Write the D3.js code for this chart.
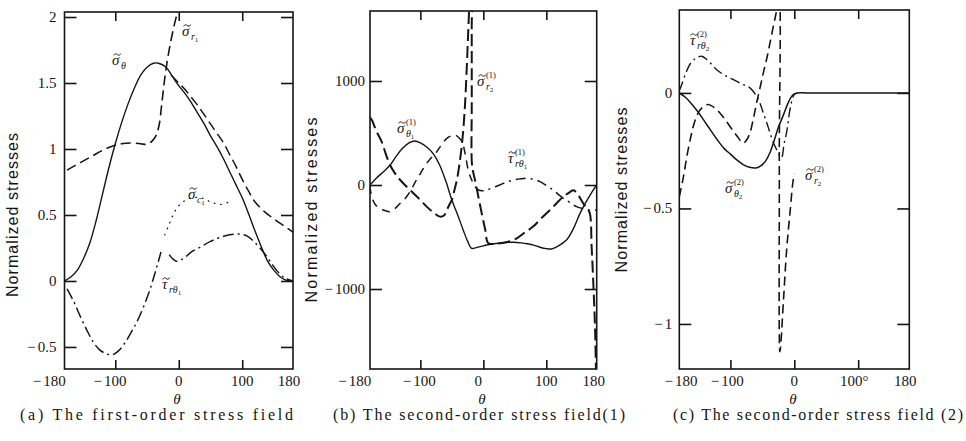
<!DOCTYPE html>
<html><head><meta charset="utf-8">
<script src="https://cdn.jsdelivr.net/npm/d3@7"></script>
<style>body{margin:0;background:#fff}svg{display:block}</style>
</head><body>
<svg id="c" width="966" height="441"></svg>
<script>
// ---------------- data ----------------
const thetaDomain = [-180, 180];
const thetaTickMarks = [-100, 0, 100];
const thetaTicks = [-180, -100, 0, 100, 180];
const xTickLabelsA = ["−180", "−100", "0", "100", "180"];
const xTickLabelsB = ["−180", "−100", "0", "100", "180"];
const xTickLabelsC = ["−180", "−100", "0", "100°", "180"];

const yTicksA = [-0.5, 0, 0.5, 1, 1.5, 2];
const yTickLabelsA = ["−0.5", "0", "0.5", "1", "1.5", "2"];
const yTicksB = [-1000, 0, 1000];
const yTickLabelsB = ["−1000", "0", "1000"];
const yTicksC = [-1, -0.5, 0];
const yTickLabelsC = ["−1", "−0.5", "0"];

const yDomainA = [-0.667, 2.038];
const yDomainB = [-1769, 1673];
const yDomainC = [-1.195, 0.359];

// (a) first-order field
const aSigTheta = [[-180,0],[-170,0.03],[-160,0.08],[-150,0.17],[-140,0.29],[-130,0.46],[-120,0.66],[-110,0.86],[-100,1.04],[-90,1.2],[-80,1.34],[-70,1.46],[-60,1.56],[-50,1.62],[-40,1.65],[-32,1.65],[-20,1.62],[-10,1.55],[0,1.48],[10,1.42],[20,1.35],[30,1.27],[40,1.19],[50,1.1],[60,1.02],[70,0.93],[80,0.83],[90,0.73],[100,0.63],[110,0.51],[120,0.38],[130,0.26],[140,0.15],[150,0.08],[160,0.03],[170,0.005],[180,0]];
const aSigRLeft = [[-176,0.84],[-165,0.87],[-150,0.91],[-135,0.95],[-120,0.99],[-105,1.02],[-90,1.04],[-75,1.045],[-60,1.04],[-50,1.035],[-42,1.06],[-36,1.1],[-31,1.18],[-27,1.33],[-23,1.5],[-19,1.64],[-14,1.78],[-8,1.92],[-2,2.04],[2,2.12]];
const aSigRRight = [[-12,1.56],[0,1.5],[10,1.45],[20,1.39],[30,1.33],[40,1.26],[50,1.19],[60,1.12],[70,1.05],[80,0.96],[90,0.87],[100,0.77],[110,0.68],[120,0.6],[135,0.525],[150,0.47],[165,0.42],[180,0.37]];
const aSigC = [[-22,0.35],[-15,0.43],[-8,0.51],[0,0.57],[10,0.61],[20,0.63],[35,0.63],[50,0.6],[65,0.58],[80,0.6]];
const aTauLeft = [[-176,-0.06],[-165,-0.16],[-155,-0.27],[-145,-0.37],[-135,-0.46],[-125,-0.52],[-115,-0.55],[-105,-0.56],[-95,-0.53],[-85,-0.47],[-75,-0.39],[-65,-0.3],[-55,-0.19],[-45,-0.06],[-38,0.05],[-32,0.15],[-28,0.22]];
const aTauRight = [[-15,0.2],[-10,0.17],[-4,0.15],[2,0.155],[10,0.18],[20,0.22],[35,0.26],[50,0.3],[65,0.33],[80,0.35],[95,0.355],[108,0.34],[118,0.3],[128,0.25],[138,0.19],[148,0.12],[158,0.06],[168,0.02],[180,0]];

// (b) second-order field (1)
const bSigTheta = [[-180,0],[-170,65],[-160,120],[-148,192],[-138,280],[-128,355],[-118,405],[-108.5,423],[-100,405],[-90,365],[-80,304],[-70,200],[-60,45],[-50,-144],[-40,-300],[-32,-433],[-25,-540],[-18.5,-609],[-10,-600],[0,-585],[5,-577],[20,-562],[35,-553],[48,-550],[60,-556],[70,-565],[80,-578],[90,-598],[100,-612],[108,-615],[118,-590],[132,-529],[143,-420],[153,-280],[162,-175],[170,-92],[180,0]];
const bSigR = [[-180,650],[-177,625],[-170,520],[-161.5,417],[-155,300],[-148,190],[-140,110],[-132,48],[-122,-15],[-111,-80],[-100,-145],[-90,-208],[-80,-260],[-69,-304],[-62,-290],[-58,-240],[-54,-190],[-50,-144],[-46,-50],[-42,48],[-38,200],[-34.4,368],[-31.5,560],[-29,785],[-26.5,1105],[-24.5,1400],[-22.5,1700],[-21,1900],[-19,1900],[-18.5,1500],[-18.4,800],[-18.2,208],[-16,120],[-13.3,48],[-8,-110],[-2.6,-272],[3,-430],[8,-560],[20,-565],[32,-555],[45,-535],[53,-513],[65,-460],[79,-400],[92,-320],[106,-240],[117,-170],[127,-112],[137,-70],[143,-50],[150,-90],[158,-170],[165,-230],[169,-270],[172,-600],[175,-1000],[177.5,-1400],[179,-1850]];
const bTauLeft = [[-180,-10],[-177,-120],[-170,-200],[-159,-240],[-148,-256],[-140,-225],[-132,-176],[-124,-130],[-116,-60],[-108,30],[-100,110],[-90,208],[-80,280],[-74,320],[-66,390],[-58,449],[-50,475],[-45,481],[-40,462],[-34,417],[-29,304],[-24,144],[-18.5,48],[-13,-16]];
const bTauRight = [[-13,-16],[-8,-48],[0,-55],[5,-48],[15,-25],[26,0],[38,30],[48,48],[60,60],[69,64],[80,55],[90,32],[100,-5],[111,-48],[120,-95],[127,-128],[138,-170],[148,-208],[160,-230],[170,-240],[180,-240]];

// (c) second-order field (2)
const cSigTheta = [[-180,0],[-170,-0.02],[-160,-0.05],[-150,-0.085],[-140,-0.125],[-130,-0.165],[-120,-0.205],[-110,-0.24],[-100,-0.265],[-90,-0.29],[-80,-0.31],[-70,-0.322],[-60,-0.325],[-52,-0.315],[-45,-0.295],[-38,-0.258],[-32,-0.21],[-25,-0.15],[-17,-0.095],[-10,-0.045],[-5,-0.018],[0,-0.004],[5,0],[20,0],[100,0],[180,0]];
const cSigR = [[-180,-0.45],[-174,-0.37],[-168.5,-0.28],[-162,-0.19],[-155.5,-0.12],[-149,-0.08],[-142,-0.058],[-135,-0.05],[-128,-0.058],[-121.5,-0.072],[-111,-0.105],[-100.7,-0.145],[-90,-0.185],[-80,-0.217],[-75,-0.205],[-69.4,-0.173],[-64,-0.11],[-59,-0.043],[-53,0.03],[-48.5,0.087],[-43,0.15],[-38,0.217],[-32,0.3],[-27.6,0.36],[-25.5,0.45],[-24.5,0.45],[-23.5,-0.3],[-22.6,-1.12],[-21.5,-1.1],[-17,-0.9],[-12,-0.68],[-6.8,-0.52],[-1.6,-0.375],[0.5,-0.35]];
const cTau = [[-180,0.01],[-177,0.03],[-170,0.085],[-162,0.13],[-153,0.152],[-145,0.159],[-137,0.145],[-129,0.123],[-121.5,0.1],[-111,0.08],[-100.7,0.065],[-90,0.05],[-80,0.036],[-69.4,0.022],[-59,-0.014],[-53,-0.05],[-48.5,-0.087],[-43,-0.13],[-38,-0.173],[-32,-0.22],[-27.6,-0.246],[-23,-0.27],[-19.8,-0.28],[-16,-0.22],[-12,-0.17],[-6.8,-0.072],[-3,-0.025],[0,-0.007],[5,0]];

const yTitle = "Normalized stresses";
const axisTitle = "θ";
const captions = ["(a)  The first-order stress field", "(b) The second-order stress field(1)", "(c) The second-order stress field (2)"];

// ---------------- drawing ----------------
const svg = d3.select("#c");
const SERIF = "'Liberation Serif','DejaVu Serif','Times New Roman',serif";
const SANS = "'Liberation Sans','DejaVu Sans',Arial,sans-serif";
const INK = "#151515";
const defs = svg.append("defs");

function seriesLabel(g, x, y, main, sup, sub, subsub) {
  const t = g.append("text").attr("x", x).attr("y", y)
    .attr("font-family", SERIF).attr("font-style", "italic").attr("font-size", 15).attr("fill", INK)
    .text(main);
  const w = t.node().getComputedTextLength();
  // tilde accent drawn as a small wave path above the symbol
  const cx = x + w / 2 + 1.5, cy = y - 10.5;
  g.append("path")
    .attr("d", `M${cx - 3.5},${cy + 0.9} C${cx - 2.3},${cy - 1.4} ${cx - 1},${cy - 0.8} ${cx},${cy} S${cx + 2.3},${cy + 1.4} ${cx + 3.5},${cy - 0.9}`)
    .attr("fill", "none").attr("stroke", INK).attr("stroke-width", 1);
  if (sup) g.append("text").attr("x", x + w + 1.5).attr("y", y - 8)
    .attr("font-family", SERIF).attr("font-size", 8.5).attr("fill", INK).text(sup);
  if (sub) {
    const s = g.append("text").attr("x", x + w + 1.5).attr("y", y + 3.5)
      .attr("font-family", SERIF).attr("font-style", "italic").attr("font-size", 10).attr("fill", INK).text(sub);
    if (subsub) s.append("tspan").attr("dy", 2).attr("font-size", 7).attr("font-style", "normal").text(subsub);
  }
}

function drawPanel(cfg) {
  const g = svg.append("g");
  const x = d3.scaleLinear().domain(thetaDomain).range([cfg.x0, cfg.x1]);
  const y = d3.scaleLinear().domain(cfg.yDomain).range([cfg.y1, cfg.y0]);
  const id = "clip" + cfg.key;
  defs.append("clipPath").attr("id", id).append("rect")
    .attr("x", cfg.x0).attr("y", cfg.y0).attr("width", cfg.x1 - cfg.x0).attr("height", cfg.y1 - cfg.y0);
  const line = d3.line().x(d => x(d[0])).y(d => y(d[1])).curve(d3.curveCatmullRom.alpha(0.5));
  const plot = g.append("g").attr("clip-path", `url(#${id})`);
  cfg.series.forEach(s => {
    plot.append("path").attr("d", line(s.data)).attr("fill", "none")
      .attr("stroke", INK).attr("stroke-width", s.w)
      .attr("stroke-dasharray", s.dash || null)
      .attr("stroke-linecap", s.cap || "butt").attr("stroke-linejoin", "round");
  });
  // frame
  g.append("rect").attr("x", cfg.x0).attr("y", cfg.y0).attr("width", cfg.x1 - cfg.x0).attr("height", cfg.y1 - cfg.y0)
    .attr("fill", "none").attr("stroke", INK).attr("stroke-width", 1.6);
  // ticks through d3 axes (inward)
  const mk = (axis, tr) => {
    const a = g.append("g").attr("transform", tr).call(axis);
    a.selectAll("text").remove();
    a.select(".domain").remove();
    a.selectAll(".tick line").attr("stroke", INK).attr("stroke-width", 1.6);
  };
  mk(d3.axisBottom(x).tickValues(thetaTickMarks).tickSizeInner(-9).tickSizeOuter(0), `translate(0,${cfg.y1})`);
  mk(d3.axisTop(x).tickValues(thetaTickMarks).tickSizeInner(-9).tickSizeOuter(0), `translate(0,${cfg.y0})`);
  mk(d3.axisLeft(y).tickValues(cfg.yTicks).tickSizeInner(-12).tickSizeOuter(0), `translate(${cfg.x0},0)`);
  mk(d3.axisRight(y).tickValues(cfg.yTicks).tickSizeInner(-12).tickSizeOuter(0), `translate(${cfg.x1},0)`);

  // tick labels
  const putNum = (str, px, py, anchor) => {
    const neg = str.startsWith("−");
    const num = neg ? str.slice(1) : str;
    const t = g.append("text").attr("x", px).attr("y", py).attr("text-anchor", anchor)
      .attr("font-family", SERIF).attr("font-size", 15).attr("fill", INK).text(num);
    if (neg) {
      const bb = t.node().getBBox();
      g.append("text").attr("x", bb.x - 2).attr("y", py).attr("text-anchor", "end")
        .attr("font-family", SERIF).attr("font-size", 15).attr("fill", INK).text("−");
    }
  };
  thetaTicks.forEach((v, i) => putNum(cfg.xLabels[i], x(v) + cfg.xdx[i], 386, "middle"));
  cfg.yTicks.forEach((v, i) => putNum(cfg.yLabels[i], cfg.x0 - cfg.ylOff, y(v) + 5, "end"));

  // axis titles
  g.append("text").attr("x", cfg.thetaX).attr("y", 404).attr("text-anchor", "middle")
    .attr("font-family", SERIF).attr("font-style", "italic").attr("font-size", 15).attr("fill", INK).text(axisTitle);
  g.append("text").attr("transform", `translate(${cfg.ytX},${cfg.ytY}) rotate(-90)`)
    .attr("text-anchor", "middle").attr("font-family", SANS).attr("font-size", 16).attr("fill", INK)
    .attr("textLength", cfg.ytLen).attr("lengthAdjust", "spacing").text(yTitle);
  g.append("text").attr("x", cfg.capX).attr("y", 420)
    .attr("font-family", SERIF).attr("font-size", 16).attr("fill", INK)
    .attr("textLength", cfg.capLen).attr("lengthAdjust", "spacing").text(cfg.caption);

  cfg.labels.forEach(l => seriesLabel(g, l[0], l[1], l[2], l[3], l[4], l[5]));
}

drawPanel({
  key: "a", x0: 64.5, x1: 293, y0: 12, y1: 369, yDomain: yDomainA,
  yTicks: yTicksA, yLabels: yTickLabelsA, ylOff: 8, xLabels: xTickLabelsA, xdx: [-10, 0, 0, 0, -4],
  thetaX: 177, ytX: 18, ytY: 215, ytLen: 164, capX: 20, capLen: 273, caption: captions[0],
  series: [
    { data: aSigTheta, w: 1.4 },
    { data: aSigRLeft, w: 1.6, dash: "10,5" },
    { data: aSigRRight, w: 1.5, dash: "10,5" },
    { data: aSigC, w: 1.4, dash: "0.5,6", cap: "round" },
    { data: aTauLeft, w: 1.5, dash: "11,4,2,4" },
    { data: aTauRight, w: 1.5, dash: "11,4,2,4" }
  ],
  labels: [
    [112, 65, "σ", null, "θ", null],
    [182, 36, "σ", null, "r", "1"],
    [188, 199, "σ", null, "c", "1"],
    [162, 289, "τ", null, "rθ", "1"]
  ]
});

drawPanel({
  key: "b", x0: 370, x1: 596.7, y0: 11, y1: 369, yDomain: yDomainB,
  yTicks: yTicksB, yLabels: yTickLabelsB, ylOff: 5, xLabels: xTickLabelsB, xdx: [-10, 4, -5, 0, -3],
  thetaX: 482, ytX: 317, ytY: 210, ytLen: 185, capX: 333, capLen: 292, caption: captions[1],
  series: [
    { data: bSigTheta, w: 1.4 },
    { data: bSigR, w: 2.0, dash: "12,5" },
    { data: bTauLeft, w: 1.5, dash: "8,6" },
    { data: bTauRight, w: 1.5, dash: "10,5,2,5" }
  ],
  labels: [
    [397, 133, "σ", "(1)", "θ", "1"],
    [477, 86, "σ", "(1)", "r", "2"],
    [508, 163, "τ", "(1)", "rθ", "1"]
  ]
});

drawPanel({
  key: "c", x0: 679.3, x1: 909.3, y0: 10, y1: 369, yDomain: yDomainC,
  yTicks: yTicksC, yLabels: yTickLabelsC, ylOff: 7, xLabels: xTickLabelsC, xdx: [7, 2, 0, -4, -4],
  thetaX: 793, ytX: 627, ytY: 190, ytLen: 165, capX: 673, capLen: 290, caption: captions[2],
  series: [
    { data: cSigTheta, w: 1.5 },
    { data: cSigR, w: 1.6, dash: "9,5" },
    { data: cTau, w: 1.4, dash: "10,4,2,4" }
  ],
  labels: [
    [690, 45, "τ", "(2)", "rθ", "2"],
    [725, 193, "σ", "(2)", "θ", "2"],
    [805, 180, "σ", "(2)", "r", "2"]
  ]
});
</script>
</body></html>
